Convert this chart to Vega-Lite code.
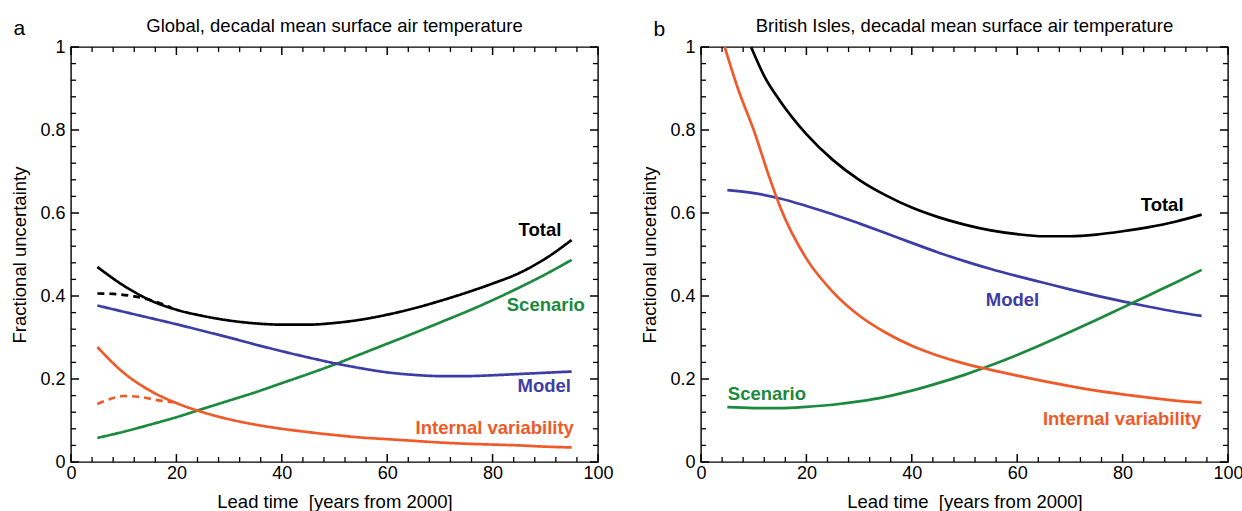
{
  "$schema": "https://vega.github.io/schema/vega-lite/v6.json",
  "padding": {"left": 10, "top": 16, "right": 0, "bottom": 0},
  "spacing": 26,
  "datasets": {
    "xmaj": [{"t":0},{"t":20},{"t":40},{"t":60},{"t":80},{"t":100}],
    "xmin": [{"t":4},{"t":8},{"t":12},{"t":16},{"t":24},{"t":28},{"t":32},{"t":36},{"t":44},{"t":48},{"t":52},{"t":56},{"t":64},{"t":68},{"t":72},{"t":76},{"t":84},{"t":88},{"t":92},{"t":96}],
    "ymaj": [{"v":0},{"v":0.2},{"v":0.4},{"v":0.6},{"v":0.8},{"v":1}],
    "ymin": [{"v":0.04},{"v":0.08},{"v":0.12},{"v":0.16},{"v":0.24},{"v":0.28},{"v":0.32},{"v":0.36},{"v":0.44},{"v":0.48},{"v":0.52},{"v":0.56},{"v":0.64},{"v":0.68},{"v":0.72},{"v":0.76},{"v":0.84},{"v":0.88},{"v":0.92},{"v":0.96}],
    "la": [
      {"t":5,"v":0.47,"s":"Total","d":"solid"},{"t":10,"v":0.425,"s":"Total","d":"solid"},{"t":15,"v":0.39,"s":"Total","d":"solid"},{"t":20,"v":0.367,"s":"Total","d":"solid"},{"t":25,"v":0.352,"s":"Total","d":"solid"},{"t":30,"v":0.341,"s":"Total","d":"solid"},{"t":35,"v":0.334,"s":"Total","d":"solid"},{"t":40,"v":0.331,"s":"Total","d":"solid"},{"t":45,"v":0.331,"s":"Total","d":"solid"},{"t":50,"v":0.335,"s":"Total","d":"solid"},{"t":55,"v":0.343,"s":"Total","d":"solid"},{"t":60,"v":0.355,"s":"Total","d":"solid"},{"t":65,"v":0.37,"s":"Total","d":"solid"},{"t":70,"v":0.388,"s":"Total","d":"solid"},{"t":75,"v":0.408,"s":"Total","d":"solid"},{"t":80,"v":0.43,"s":"Total","d":"solid"},{"t":85,"v":0.455,"s":"Total","d":"solid"},{"t":90,"v":0.49,"s":"Total","d":"solid"},{"t":95,"v":0.535,"s":"Total","d":"solid"},
      {"t":5,"v":0.406,"s":"Total","d":"dashed"},{"t":8,"v":0.405,"s":"Total","d":"dashed"},{"t":12,"v":0.399,"s":"Total","d":"dashed"},{"t":16.4,"v":0.385,"s":"Total","d":"dashed"},{"t":19,"v":0.372,"s":"Total","d":"dashed"},
      {"t":5,"v":0.058,"s":"Scenario","d":"solid"},{"t":10,"v":0.073,"s":"Scenario","d":"solid"},{"t":15,"v":0.09,"s":"Scenario","d":"solid"},{"t":20,"v":0.108,"s":"Scenario","d":"solid"},{"t":25,"v":0.128,"s":"Scenario","d":"solid"},{"t":30,"v":0.148,"s":"Scenario","d":"solid"},{"t":35,"v":0.168,"s":"Scenario","d":"solid"},{"t":40,"v":0.19,"s":"Scenario","d":"solid"},{"t":45,"v":0.212,"s":"Scenario","d":"solid"},{"t":50,"v":0.235,"s":"Scenario","d":"solid"},{"t":55,"v":0.26,"s":"Scenario","d":"solid"},{"t":60,"v":0.285,"s":"Scenario","d":"solid"},{"t":65,"v":0.31,"s":"Scenario","d":"solid"},{"t":70,"v":0.336,"s":"Scenario","d":"solid"},{"t":75,"v":0.362,"s":"Scenario","d":"solid"},{"t":80,"v":0.39,"s":"Scenario","d":"solid"},{"t":85,"v":0.42,"s":"Scenario","d":"solid"},{"t":90,"v":0.452,"s":"Scenario","d":"solid"},{"t":95,"v":0.487,"s":"Scenario","d":"solid"},
      {"t":5,"v":0.377,"s":"Model","d":"solid"},{"t":10,"v":0.362,"s":"Model","d":"solid"},{"t":15,"v":0.347,"s":"Model","d":"solid"},{"t":20,"v":0.332,"s":"Model","d":"solid"},{"t":25,"v":0.316,"s":"Model","d":"solid"},{"t":30,"v":0.3,"s":"Model","d":"solid"},{"t":35,"v":0.283,"s":"Model","d":"solid"},{"t":40,"v":0.267,"s":"Model","d":"solid"},{"t":45,"v":0.252,"s":"Model","d":"solid"},{"t":50,"v":0.238,"s":"Model","d":"solid"},{"t":55,"v":0.226,"s":"Model","d":"solid"},{"t":60,"v":0.216,"s":"Model","d":"solid"},{"t":65,"v":0.21,"s":"Model","d":"solid"},{"t":70,"v":0.207,"s":"Model","d":"solid"},{"t":75,"v":0.207,"s":"Model","d":"solid"},{"t":80,"v":0.209,"s":"Model","d":"solid"},{"t":85,"v":0.212,"s":"Model","d":"solid"},{"t":90,"v":0.215,"s":"Model","d":"solid"},{"t":95,"v":0.218,"s":"Model","d":"solid"},
      {"t":5,"v":0.277,"s":"Internal variability","d":"solid"},{"t":10,"v":0.215,"s":"Internal variability","d":"solid"},{"t":15,"v":0.172,"s":"Internal variability","d":"solid"},{"t":20,"v":0.142,"s":"Internal variability","d":"solid"},{"t":25,"v":0.12,"s":"Internal variability","d":"solid"},{"t":30,"v":0.103,"s":"Internal variability","d":"solid"},{"t":35,"v":0.09,"s":"Internal variability","d":"solid"},{"t":40,"v":0.08,"s":"Internal variability","d":"solid"},{"t":45,"v":0.072,"s":"Internal variability","d":"solid"},{"t":50,"v":0.065,"s":"Internal variability","d":"solid"},{"t":55,"v":0.059,"s":"Internal variability","d":"solid"},{"t":60,"v":0.055,"s":"Internal variability","d":"solid"},{"t":65,"v":0.051,"s":"Internal variability","d":"solid"},{"t":70,"v":0.047,"s":"Internal variability","d":"solid"},{"t":75,"v":0.044,"s":"Internal variability","d":"solid"},{"t":80,"v":0.042,"s":"Internal variability","d":"solid"},{"t":85,"v":0.04,"s":"Internal variability","d":"solid"},{"t":90,"v":0.037,"s":"Internal variability","d":"solid"},{"t":95,"v":0.035,"s":"Internal variability","d":"solid"},
      {"t":5,"v":0.14,"s":"Internal variability","d":"dashed"},{"t":7.5,"v":0.152,"s":"Internal variability","d":"dashed"},{"t":10,"v":0.159,"s":"Internal variability","d":"dashed"},{"t":13,"v":0.157,"s":"Internal variability","d":"dashed"},{"t":16.4,"v":0.149,"s":"Internal variability","d":"dashed"},{"t":19.5,"v":0.144,"s":"Internal variability","d":"dashed"}
    ],
    "lb": [
      {"t":9.5,"v":1.0,"s":"Total","d":"solid"},{"t":12,"v":0.93,"s":"Total","d":"solid"},{"t":15,"v":0.87,"s":"Total","d":"solid"},{"t":20,"v":0.79,"s":"Total","d":"solid"},{"t":25,"v":0.728,"s":"Total","d":"solid"},{"t":30,"v":0.68,"s":"Total","d":"solid"},{"t":35,"v":0.643,"s":"Total","d":"solid"},{"t":40,"v":0.613,"s":"Total","d":"solid"},{"t":45,"v":0.59,"s":"Total","d":"solid"},{"t":50,"v":0.572,"s":"Total","d":"solid"},{"t":55,"v":0.558,"s":"Total","d":"solid"},{"t":60,"v":0.549,"s":"Total","d":"solid"},{"t":65,"v":0.544,"s":"Total","d":"solid"},{"t":70,"v":0.544,"s":"Total","d":"solid"},{"t":75,"v":0.548,"s":"Total","d":"solid"},{"t":80,"v":0.556,"s":"Total","d":"solid"},{"t":85,"v":0.566,"s":"Total","d":"solid"},{"t":90,"v":0.579,"s":"Total","d":"solid"},{"t":95,"v":0.596,"s":"Total","d":"solid"},
      {"t":5,"v":0.655,"s":"Model","d":"solid"},{"t":10,"v":0.648,"s":"Model","d":"solid"},{"t":15,"v":0.635,"s":"Model","d":"solid"},{"t":20,"v":0.617,"s":"Model","d":"solid"},{"t":25,"v":0.597,"s":"Model","d":"solid"},{"t":30,"v":0.575,"s":"Model","d":"solid"},{"t":35,"v":0.552,"s":"Model","d":"solid"},{"t":40,"v":0.528,"s":"Model","d":"solid"},{"t":45,"v":0.505,"s":"Model","d":"solid"},{"t":50,"v":0.484,"s":"Model","d":"solid"},{"t":55,"v":0.465,"s":"Model","d":"solid"},{"t":60,"v":0.448,"s":"Model","d":"solid"},{"t":65,"v":0.432,"s":"Model","d":"solid"},{"t":70,"v":0.416,"s":"Model","d":"solid"},{"t":75,"v":0.401,"s":"Model","d":"solid"},{"t":80,"v":0.387,"s":"Model","d":"solid"},{"t":85,"v":0.374,"s":"Model","d":"solid"},{"t":90,"v":0.362,"s":"Model","d":"solid"},{"t":95,"v":0.352,"s":"Model","d":"solid"},
      {"t":5,"v":0.132,"s":"Scenario","d":"solid"},{"t":10,"v":0.13,"s":"Scenario","d":"solid"},{"t":15,"v":0.13,"s":"Scenario","d":"solid"},{"t":20,"v":0.133,"s":"Scenario","d":"solid"},{"t":25,"v":0.138,"s":"Scenario","d":"solid"},{"t":30,"v":0.146,"s":"Scenario","d":"solid"},{"t":35,"v":0.157,"s":"Scenario","d":"solid"},{"t":40,"v":0.172,"s":"Scenario","d":"solid"},{"t":45,"v":0.19,"s":"Scenario","d":"solid"},{"t":50,"v":0.21,"s":"Scenario","d":"solid"},{"t":55,"v":0.233,"s":"Scenario","d":"solid"},{"t":60,"v":0.258,"s":"Scenario","d":"solid"},{"t":65,"v":0.285,"s":"Scenario","d":"solid"},{"t":70,"v":0.313,"s":"Scenario","d":"solid"},{"t":75,"v":0.342,"s":"Scenario","d":"solid"},{"t":80,"v":0.372,"s":"Scenario","d":"solid"},{"t":85,"v":0.402,"s":"Scenario","d":"solid"},{"t":90,"v":0.432,"s":"Scenario","d":"solid"},{"t":95,"v":0.463,"s":"Scenario","d":"solid"},
      {"t":4.5,"v":1.0,"s":"Internal variability","d":"solid"},{"t":7,"v":0.9,"s":"Internal variability","d":"solid"},{"t":10,"v":0.8,"s":"Internal variability","d":"solid"},{"t":13,"v":0.685,"s":"Internal variability","d":"solid"},{"t":15,"v":0.615,"s":"Internal variability","d":"solid"},{"t":20,"v":0.49,"s":"Internal variability","d":"solid"},{"t":25,"v":0.41,"s":"Internal variability","d":"solid"},{"t":30,"v":0.353,"s":"Internal variability","d":"solid"},{"t":35,"v":0.312,"s":"Internal variability","d":"solid"},{"t":40,"v":0.28,"s":"Internal variability","d":"solid"},{"t":45,"v":0.256,"s":"Internal variability","d":"solid"},{"t":50,"v":0.237,"s":"Internal variability","d":"solid"},{"t":55,"v":0.222,"s":"Internal variability","d":"solid"},{"t":60,"v":0.208,"s":"Internal variability","d":"solid"},{"t":65,"v":0.195,"s":"Internal variability","d":"solid"},{"t":70,"v":0.183,"s":"Internal variability","d":"solid"},{"t":75,"v":0.172,"s":"Internal variability","d":"solid"},{"t":80,"v":0.163,"s":"Internal variability","d":"solid"},{"t":85,"v":0.155,"s":"Internal variability","d":"solid"},{"t":90,"v":0.148,"s":"Internal variability","d":"solid"},{"t":95,"v":0.143,"s":"Internal variability","d":"solid"}
    ],
    "ta": [
      {"t":89,"v":0.559,"s":"Total"},{"t":90.1,"v":0.378,"s":"Scenario"},{"t":89.8,"v":0.183,"s":"Model"},{"t":80.4,"v":0.082,"s":"Internal variability"}
    ],
    "tb": [
      {"t":87.5,"v":0.619,"s":"Total"},{"t":59.1,"v":0.39,"s":"Model"},{"t":12.5,"v":0.164,"s":"Scenario"},{"t":79.9,"v":0.104,"s":"Internal variability"}
    ]
  },
  "hconcat": [
    {
      "width": 527, "height": 415,
      "title": {"text": "Global, decadal mean surface air temperature", "offset": -18},
      "layer": [
        {
          "data": {"name": "la"},
          "mark": {"type": "line", "interpolate": "monotone", "strokeWidth": 2.7},
          "encoding": {
            "x": {"field": "t", "type": "quantitative", "scale": {"domain": [0, 100], "nice": false},
              "axis": {"orient": "bottom", "values": [0,20,40,60,80,100], "ticks": false, "domain": false, "labelPadding": 2, "labelFlush": false, "title": "Lead time\u00a0\u00a0[years from 2000]", "titlePadding": 10}},
            "y": {"field": "v", "type": "quantitative", "scale": {"domain": [0, 1], "nice": false},
              "axis": {"orient": "left", "values": [0,0.2,0.4,0.6,0.8,1], "format": ".1~f", "ticks": false, "domain": false, "labelPadding": 6, "title": "Fractional uncertainty", "titlePadding": 10}},
            "color": {"field": "s", "type": "nominal", "scale": {"domain": ["Total", "Scenario", "Model", "Internal variability"], "range": ["#000000", "#1c8a3e", "#3d3da6", "#f05a28"]}, "legend": null},
            "strokeDash": {"field": "d", "type": "nominal", "scale": {"domain": ["solid", "dashed"], "range": [[1, 0], [7, 5]]}, "legend": null}
          }
        },
        {"data": {"name": "xmaj"}, "mark": {"type": "tick", "orient": "vertical", "size": 8, "thickness": 1.5, "color": "black", "opacity": 1, "yOffset": -4},
         "encoding": {"x": {"field": "t", "type": "quantitative"}, "y": {"datum": 0, "type": "quantitative"}}},
        {"data": {"name": "xmaj"}, "mark": {"type": "tick", "orient": "vertical", "size": 8, "thickness": 1.5, "color": "black", "opacity": 1, "yOffset": 4},
         "encoding": {"x": {"field": "t", "type": "quantitative"}, "y": {"datum": 1, "type": "quantitative"}}},
        {"data": {"name": "xmin"}, "mark": {"type": "tick", "orient": "vertical", "size": 5, "thickness": 1.3, "color": "black", "opacity": 1, "yOffset": -2.5},
         "encoding": {"x": {"field": "t", "type": "quantitative"}, "y": {"datum": 0, "type": "quantitative"}}},
        {"data": {"name": "xmin"}, "mark": {"type": "tick", "orient": "vertical", "size": 5, "thickness": 1.3, "color": "black", "opacity": 1, "yOffset": 2.5},
         "encoding": {"x": {"field": "t", "type": "quantitative"}, "y": {"datum": 1, "type": "quantitative"}}},
        {"data": {"name": "ymaj"}, "mark": {"type": "tick", "orient": "horizontal", "size": 8, "thickness": 1.5, "color": "black", "opacity": 1, "xOffset": 4},
         "encoding": {"y": {"field": "v", "type": "quantitative"}, "x": {"datum": 0, "type": "quantitative"}}},
        {"data": {"name": "ymaj"}, "mark": {"type": "tick", "orient": "horizontal", "size": 8, "thickness": 1.5, "color": "black", "opacity": 1, "xOffset": -4},
         "encoding": {"y": {"field": "v", "type": "quantitative"}, "x": {"datum": 100, "type": "quantitative"}}},
        {"data": {"name": "ymin"}, "mark": {"type": "tick", "orient": "horizontal", "size": 5, "thickness": 1.3, "color": "black", "opacity": 1, "xOffset": 2.5},
         "encoding": {"y": {"field": "v", "type": "quantitative"}, "x": {"datum": 0, "type": "quantitative"}}},
        {"data": {"name": "ymin"}, "mark": {"type": "tick", "orient": "horizontal", "size": 5, "thickness": 1.3, "color": "black", "opacity": 1, "xOffset": -2.5},
         "encoding": {"y": {"field": "v", "type": "quantitative"}, "x": {"datum": 100, "type": "quantitative"}}},
        {
          "data": {"name": "ta"},
          "mark": {"type": "text", "fontWeight": "bold", "fontSize": 18.5},
          "encoding": {
            "x": {"field": "t", "type": "quantitative"},
            "y": {"field": "v", "type": "quantitative"},
            "text": {"field": "s"},
            "color": {"field": "s", "type": "nominal", "legend": null}
          }
        },
        {
          "data": {"values": [{"p": "a"}]},
          "mark": {"type": "text", "fontSize": 21, "color": "black"},
          "encoding": {
            "x": {"datum": -9.8, "type": "quantitative"},
            "y": {"datum": 1.044, "type": "quantitative"},
            "text": {"field": "p"}
          }
        }
      ]
    },
    {
      "width": 527, "height": 415,
      "title": {"text": "British Isles, decadal mean surface air temperature", "offset": -16.5},
      "layer": [
        {
          "data": {"name": "lb"},
          "mark": {"type": "line", "interpolate": "monotone", "strokeWidth": 2.7},
          "encoding": {
            "x": {"field": "t", "type": "quantitative", "scale": {"domain": [0, 100], "nice": false},
              "axis": {"orient": "bottom", "values": [0,20,40,60,80,100], "ticks": false, "domain": false, "labelPadding": 2, "labelFlush": false, "title": "Lead time\u00a0\u00a0[years from 2000]", "titlePadding": 10}},
            "y": {"field": "v", "type": "quantitative", "scale": {"domain": [0, 1], "nice": false},
              "axis": {"orient": "left", "values": [0,0.2,0.4,0.6,0.8,1], "format": ".1~f", "ticks": false, "domain": false, "labelPadding": 6, "title": "Fractional uncertainty", "titlePadding": 10}},
            "color": {"field": "s", "type": "nominal", "scale": {"domain": ["Total", "Scenario", "Model", "Internal variability"], "range": ["#000000", "#1c8a3e", "#3d3da6", "#f05a28"]}, "legend": null}
          }
        },
        {"data": {"name": "xmaj"}, "mark": {"type": "tick", "orient": "vertical", "size": 8, "thickness": 1.5, "color": "black", "opacity": 1, "yOffset": -4},
         "encoding": {"x": {"field": "t", "type": "quantitative"}, "y": {"datum": 0, "type": "quantitative"}}},
        {"data": {"name": "xmaj"}, "mark": {"type": "tick", "orient": "vertical", "size": 8, "thickness": 1.5, "color": "black", "opacity": 1, "yOffset": 4},
         "encoding": {"x": {"field": "t", "type": "quantitative"}, "y": {"datum": 1, "type": "quantitative"}}},
        {"data": {"name": "xmin"}, "mark": {"type": "tick", "orient": "vertical", "size": 5, "thickness": 1.3, "color": "black", "opacity": 1, "yOffset": -2.5},
         "encoding": {"x": {"field": "t", "type": "quantitative"}, "y": {"datum": 0, "type": "quantitative"}}},
        {"data": {"name": "xmin"}, "mark": {"type": "tick", "orient": "vertical", "size": 5, "thickness": 1.3, "color": "black", "opacity": 1, "yOffset": 2.5},
         "encoding": {"x": {"field": "t", "type": "quantitative"}, "y": {"datum": 1, "type": "quantitative"}}},
        {"data": {"name": "ymaj"}, "mark": {"type": "tick", "orient": "horizontal", "size": 8, "thickness": 1.5, "color": "black", "opacity": 1, "xOffset": 4},
         "encoding": {"y": {"field": "v", "type": "quantitative"}, "x": {"datum": 0, "type": "quantitative"}}},
        {"data": {"name": "ymaj"}, "mark": {"type": "tick", "orient": "horizontal", "size": 8, "thickness": 1.5, "color": "black", "opacity": 1, "xOffset": -4},
         "encoding": {"y": {"field": "v", "type": "quantitative"}, "x": {"datum": 100, "type": "quantitative"}}},
        {"data": {"name": "ymin"}, "mark": {"type": "tick", "orient": "horizontal", "size": 5, "thickness": 1.3, "color": "black", "opacity": 1, "xOffset": 2.5},
         "encoding": {"y": {"field": "v", "type": "quantitative"}, "x": {"datum": 0, "type": "quantitative"}}},
        {"data": {"name": "ymin"}, "mark": {"type": "tick", "orient": "horizontal", "size": 5, "thickness": 1.3, "color": "black", "opacity": 1, "xOffset": -2.5},
         "encoding": {"y": {"field": "v", "type": "quantitative"}, "x": {"datum": 100, "type": "quantitative"}}},
        {
          "data": {"name": "tb"},
          "mark": {"type": "text", "fontWeight": "bold", "fontSize": 18.5},
          "encoding": {
            "x": {"field": "t", "type": "quantitative"},
            "y": {"field": "v", "type": "quantitative"},
            "text": {"field": "s"},
            "color": {"field": "s", "type": "nominal", "legend": null}
          }
        },
        {
          "data": {"values": [{"p": "b"}]},
          "mark": {"type": "text", "fontSize": 21, "color": "black"},
          "encoding": {
            "x": {"datum": -7.9, "type": "quantitative"},
            "y": {"datum": 1.04, "type": "quantitative"},
            "text": {"field": "p"}
          }
        }
      ]
    }
  ],
  "config": {
    "font": "Liberation Sans",
    "view": {"stroke": "black", "strokeWidth": 1.4},
    "axis": {"grid": false, "labelFont": "Liberation Sans", "labelFontSize": 18, "labelColor": "black", "titleFont": "Liberation Sans", "titleFontSize": 18.5, "titleFontWeight": "normal", "titleColor": "black"},
    "title": {"font": "Liberation Sans", "fontSize": 18.5, "fontWeight": "normal", "color": "black"},
    "text": {"font": "Liberation Sans"}
  }
}
